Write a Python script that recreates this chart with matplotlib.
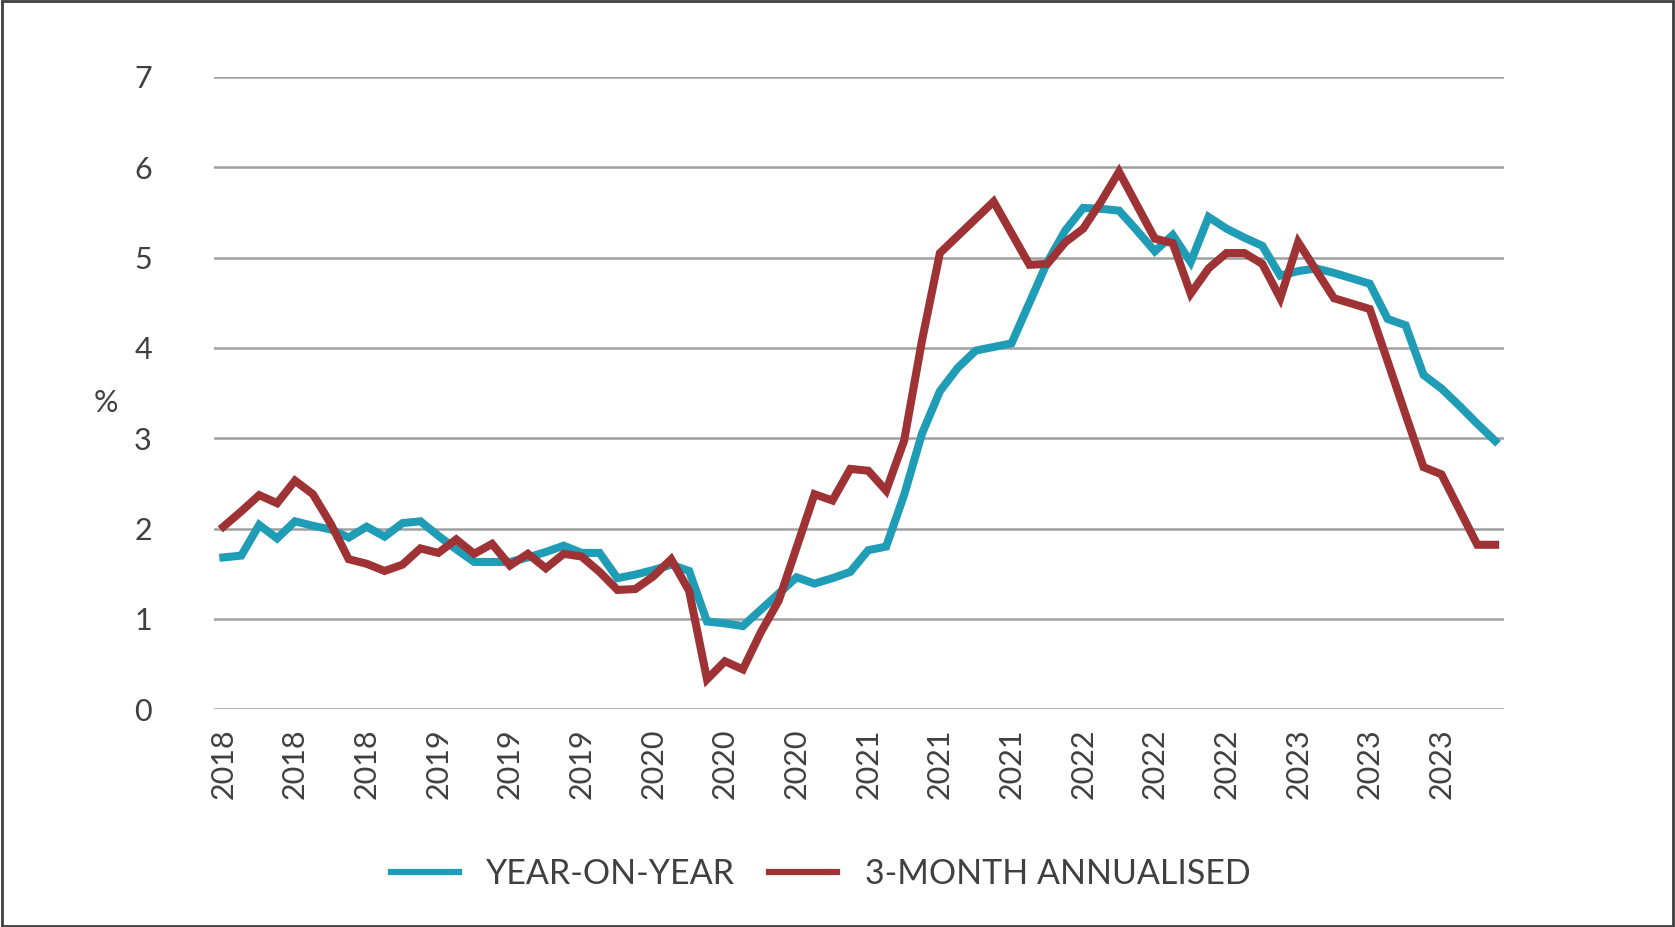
import matplotlib.pyplot as plt
from matplotlib.patches import Rectangle

# monthly, Jan 2018 .. Dec 2023
yoy = [1.68, 1.70, 2.04, 1.89, 2.08, 2.03, 1.99, 1.90, 2.02, 1.91, 2.06, 2.08,
       1.92, 1.77, 1.63, 1.63, 1.63, 1.68, 1.74, 1.81, 1.73, 1.73, 1.45, 1.49,
       1.54, 1.60, 1.53, 0.97, 0.95, 0.92, 1.10, 1.28, 1.46, 1.39, 1.45, 1.52,
       1.76, 1.80, 2.37, 3.05, 3.52, 3.78, 3.97, 4.01, 4.05, 4.50, 4.95, 5.30,
       5.55, 5.54, 5.52, 5.30, 5.07, 5.25, 4.95, 5.45, 5.32, 5.22, 5.13, 4.80,
       4.85, 4.88, 4.83, 4.77, 4.71, 4.32, 4.25, 3.70, 3.55, 3.36, 3.16, 2.97]
three_month = [2.02, 2.19, 2.37, 2.28, 2.53, 2.38, 2.05, 1.66, 1.61, 1.53, 1.60, 1.78,
               1.73, 1.88, 1.72, 1.83, 1.59, 1.72, 1.56, 1.72, 1.69, 1.52, 1.32, 1.33,
               1.47, 1.66, 1.31, 0.33, 0.53, 0.44, 0.85, 1.20, 1.79, 2.38, 2.31, 2.66,
               2.64, 2.42, 2.97, 4.08, 5.05, 5.24, 5.43, 5.62, 5.27, 4.92, 4.93, 5.17,
               5.32, 5.62, 5.95, 5.58, 5.21, 5.16, 4.60, 4.88, 5.05, 5.05, 4.93, 4.55,
               5.17, 4.86, 4.55, 4.49, 4.43, 3.85, 3.26, 2.68, 2.60, 2.21, 1.82, 1.82]
tick_labels = ["2018", "2018", "2018", "2019", "2019", "2019", "2020", "2020", "2020",
               "2021", "2021", "2021", "2022", "2022", "2022", "2023", "2023", "2023"]

plt.rcParams['font.family'] = ['Lato', 'DejaVu Sans']

fig = plt.figure(figsize=(16.75, 9.27), dpi=100)
ax = fig.add_axes([0.128, 0.235, 0.77, 0.682])

x = list(range(len(yoy)))
ax.plot(x, yoy, color='#1F9CB6', lw=5.8, label='YEAR-ON-YEAR', solid_joinstyle='miter')
ax.plot(x, three_month, color='#9E3234', lw=5.8, label='3-MONTH ANNUALISED', solid_joinstyle='miter')

ax.set_xlim(-0.5, len(yoy) - 0.5)
ax.set_ylim(0, 7)
ax.set_yticks(range(0, 8))
ax.set_xticks(range(0, len(yoy), 4))
ax.set_xticklabels(tick_labels, rotation=90)
ax.tick_params(axis='both', length=0, labelsize=22, labelcolor='#404040')
ax.tick_params(axis='y', pad=45)
ax.tick_params(axis='x', pad=14)

ax.grid(axis='y', color='#A0A0A0', lw=1.8)
ax.set_axisbelow(True)
for s in ax.spines.values():
    s.set_visible(False)

fig.text(0.063, 0.565, '%', fontsize=22, color='#404040', ha='center', va='center')

leg = fig.legend(loc='center', bbox_to_anchor=(0.49, 0.057), ncol=2, frameon=False,
                 fontsize=24.5, handlelength=2.0, columnspacing=1.0, handletextpad=0.8)
for t in leg.get_texts():
    t.set_color('#404040')
for h in leg.get_lines():
    h.set_linewidth(4.5)

fig.patches.append(Rectangle((0.001, 0.001), 0.998, 0.998, transform=fig.transFigure,
                             fill=False, edgecolor='#404040', lw=2))

fig.savefig('out.png', dpi=100)
